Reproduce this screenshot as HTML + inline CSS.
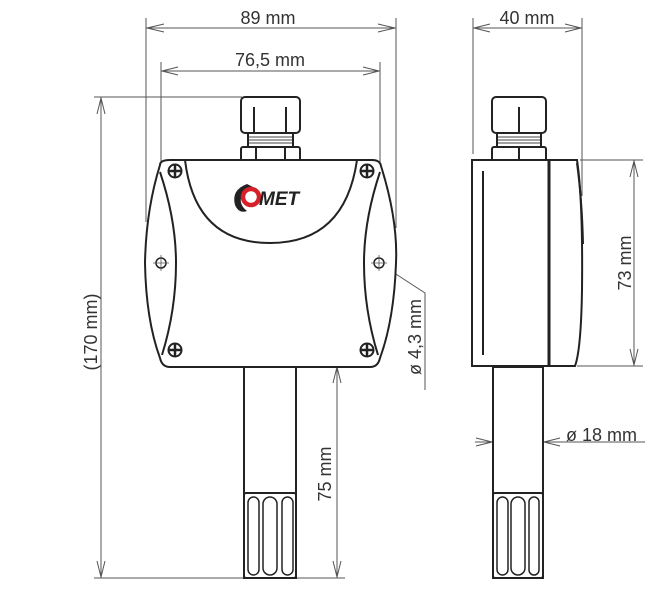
<!DOCTYPE html>
<html><head><meta charset="utf-8"><style>
html,body{margin:0;padding:0;background:#fff;}
svg{display:block;}
text{font-family:"Liberation Sans",Arial,sans-serif;fill:#333;font-size:18px;}
</style></head><body>
<svg width="669" height="609" viewBox="0 0 669 609" xmlns="http://www.w3.org/2000/svg">
<g stroke="#555" stroke-width="1" fill="none">
 <line x1="146" y1="18" x2="146" y2="222"/><line x1="396" y1="18" x2="396" y2="228"/>
 <line x1="146" y1="28" x2="396" y2="28"/>
 <path d="M164 24 L147 28 L164 32 M378 24 L395 28 L378 32"/>
 <line x1="161" y1="62" x2="161" y2="270"/><line x1="380" y1="62" x2="380" y2="270"/>
 <line x1="161" y1="71" x2="380" y2="71"/>
 <path d="M178 67 L162 71 L178 75 M363 67 L379 71 L363 75"/>
 <line x1="94" y1="97" x2="242" y2="97"/><line x1="94" y1="578" x2="244" y2="578"/>
 <line x1="101" y1="97" x2="101" y2="578"/>
 <path d="M97 114 L101 98 L105 114 M97 561 L101 577 L105 561"/>
 <line x1="296" y1="366" x2="345" y2="366"/><line x1="296" y1="578" x2="345" y2="578"/>
 <line x1="337" y1="366" x2="337" y2="578"/>
 <path d="M333 383 L337 367 L341 383 M333 561 L337 577 L341 561"/>
 <path d="M382 265 L425 293 L425 390"/>
 <line x1="473" y1="18" x2="473" y2="154"/><line x1="582" y1="18" x2="582" y2="196"/>
 <line x1="473" y1="28" x2="582" y2="28"/>
 <path d="M490 24 L474 28 L490 32 M565 24 L581 28 L565 32"/>
 <line x1="580" y1="160" x2="643" y2="160"/><line x1="577" y1="366" x2="643" y2="366"/>
 <line x1="634" y1="160" x2="634" y2="366"/>
 <path d="M630 177 L634 161 L638 177 M630 349 L634 365 L638 349"/>
 <line x1="475" y1="442" x2="645" y2="442"/>
 <path d="M476 438 L492 442 L476 446 M560 438 L544 442 L560 446"/>
</g>
<g stroke="#222" stroke-width="2" fill="#fff">
 <rect x="241" y="97" width="59" height="36" rx="4"/>
 <line x1="254" y1="107" x2="254" y2="133"/><line x1="286" y1="107" x2="286" y2="133"/>
 <rect x="248" y="133" width="45" height="14"/>
 <rect x="241" y="147" width="59" height="14" rx="2"/>
 <line x1="256" y1="147" x2="256" y2="160"/><line x1="285" y1="147" x2="285" y2="160"/>
 <path d="M160 165 Q160 160 170 160 L372 160 Q380 160 381 166 Q398 220 396 263 Q394 320 380 358 Q378 367 370 367 L170 367 Q162 367 160 358 Q146 320 145 263 Q146 210 160 165 Z"/>
 <path d="M160 172 Q176 220 176 263 Q176 310 162 355" fill="none"/>
 <path d="M380 172 Q364 220 364 263 Q364 310 378 355" fill="none"/>
 <path d="M185 160 Q195 243 270 243 Q345 243 357 160" fill="none"/>
 <rect x="244" y="367" width="52" height="211"/>
 <rect x="244" y="493" width="52" height="85" rx="2"/>
 <rect x="248" y="497" width="11" height="78" rx="5.5" stroke-width="1.5"/>
 <rect x="263" y="497" width="14" height="78" rx="7" stroke-width="1.5"/>
 <rect x="282" y="497" width="11" height="78" rx="5.5" stroke-width="1.5"/>
 <rect x="492" y="97" width="54" height="36" rx="4"/>
 <line x1="519" y1="107" x2="519" y2="133"/>
 <rect x="497" y="133" width="44" height="14"/>
 <rect x="492" y="147" width="54" height="14" rx="2"/>
 <line x1="519" y1="147" x2="519" y2="160"/>
 <path d="M472 160 L577 160 Q583 200 582 290 Q581 350 575 366 L472 366 Z"/>
 <line x1="549" y1="160" x2="549" y2="366" stroke-width="3"/>
 <line x1="483" y1="171" x2="483" y2="355"/>
 <path d="M577 163 Q582 200 583 244" fill="none"/>
 <rect x="493" y="367" width="50" height="211"/>
 <rect x="493" y="493" width="50" height="85" rx="2"/>
 <rect x="497" y="497" width="11" height="78" rx="5.5" stroke-width="1.5"/>
 <rect x="511" y="497" width="14" height="78" rx="7" stroke-width="1.5"/>
 <rect x="529" y="497" width="10" height="78" rx="5" stroke-width="1.5"/>
</g>
<g stroke="#444" stroke-width="1">
 <path d="M249 137h43M249 140h43M249 143h43M498 137h42M498 140h42M498 143h42"/>
</g>
<g stroke="#222" stroke-width="2" fill="#fff">
 <circle cx="175" cy="171" r="6.5"/><circle cx="367" cy="171" r="6.5"/>
 <circle cx="175" cy="350" r="6.5"/><circle cx="367" cy="350" r="6.5"/>
 <path d="M169 171h12M175 165v12M361 171h12M367 165v12M169 350h12M175 344v12M361 350h12M367 344v12" stroke-width="2.5"/>
 <circle cx="161" cy="263" r="5" stroke-width="1.5"/><circle cx="379" cy="263" r="5" stroke-width="1.5"/>
</g>
<g stroke="#555" stroke-width="0.8">
 <path d="M153 263h16M161 255v16M371 263h16M379 255v16"/>
</g>
<path d="M247 184 Q231 190 235 205 Q239 214 247 211 Q238 204 242 195 Q245 189 253 187 Z" fill="#222"/>
<circle cx="251" cy="197" r="8" fill="none" stroke="#d6202a" stroke-width="4.5"/>
<text x="259" y="205" style="font-size:19px;font-weight:bold;font-style:italic;fill:#222">MET</text>
<text x="268" y="24" text-anchor="middle">89 mm</text>
<text x="270" y="66" text-anchor="middle">76,5 mm</text>
<text x="527" y="24" text-anchor="middle">40 mm</text>
<text x="566" y="441">ø 18 mm</text>
<text transform="translate(97,332) rotate(-90)" text-anchor="middle">(170 mm)</text>
<text transform="translate(331,474) rotate(-90)" text-anchor="middle">75 mm</text>
<text transform="translate(421,337) rotate(-90)" text-anchor="middle">ø 4,3 mm</text>
<text transform="translate(631,263) rotate(-90)" text-anchor="middle">73 mm</text>
</svg>
</body></html>
